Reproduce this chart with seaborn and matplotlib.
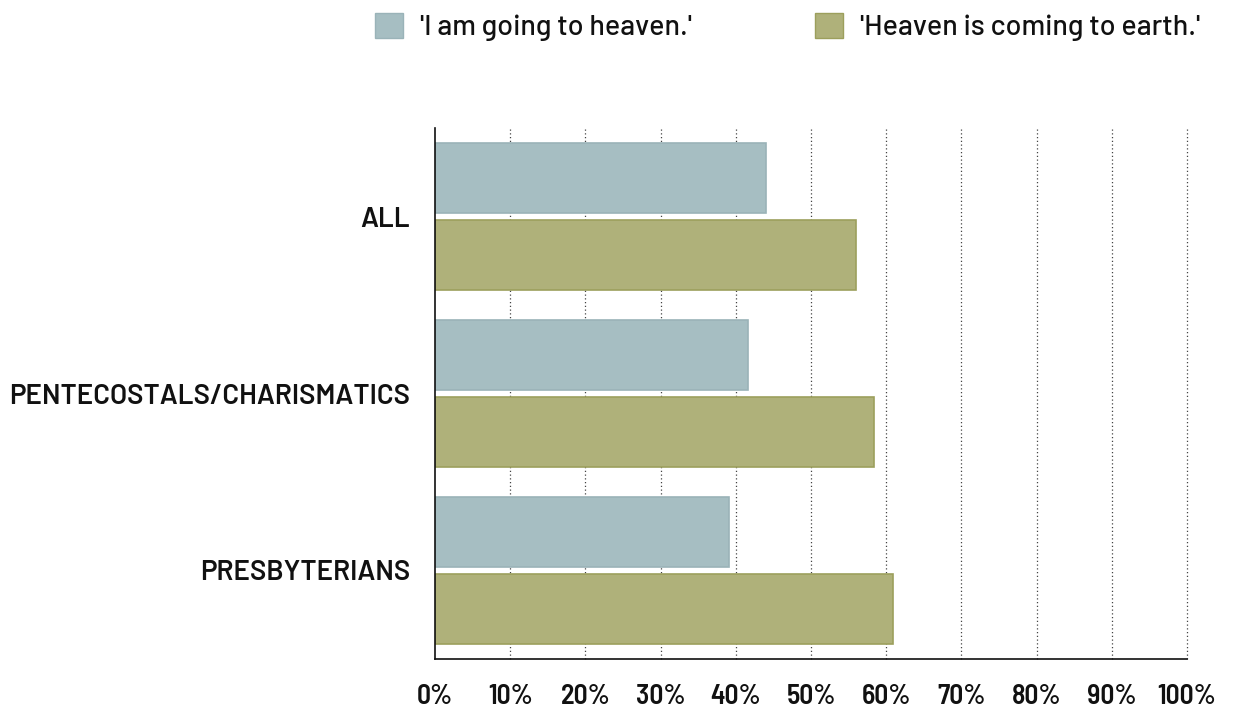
import matplotlib
matplotlib.use("Agg")
import matplotlib.pyplot as plt
from matplotlib.patches import Patch
from matplotlib.font_manager import fontManager
import seaborn as sns
import pandas as pd

categories = ["ALL", "PENTECOSTALS/CHARISMATICS", "PRESBYTERIANS"]
series_names = ["'I am going to heaven.'", "'Heaven is coming to earth.'"]
going_to_heaven = [44.0, 41.6, 39.1]
heaven_to_earth = [56.0, 58.4, 60.9]
x_ticks = [0, 10, 20, 30, 40, 50, 60, 70, 80, 90, 100]
x_tick_labels = [f"{t}%" for t in x_ticks]

colors = ["#a6bec2", "#afb17a"]
edges = ["#9ab3b8", "#9c9f5c"]

df = pd.DataFrame({
    "category": categories * 2,
    "series": [series_names[0]] * 3 + [series_names[1]] * 3,
    "value": going_to_heaven + heaven_to_earth,
})

sns.set_theme(style="white")
names = {f.name for f in fontManager.ttflist}
cond = [f for f in ["Barlow Semi Condensed", "Roboto Condensed"] if f in names] + ["DejaVu Sans"]
wide = [f for f in ["Barlow", "Roboto"] if f in names] + ["DejaVu Sans"]
plt.rcParams["font.family"] = cond

fig = plt.figure(figsize=(12.34, 7.09), dpi=100)
ax = fig.add_axes([435 / 1234, 1 - 659 / 709, (1187 - 435) / 1234, (659 - 128) / 709])

sns.barplot(data=df, y="category", x="value", hue="series", order=categories,
            hue_order=series_names, palette=colors, orient="h",
            width=0.87, gap=0.09, legend=False, ax=ax, saturation=1)

for bar_container, ec in zip(ax.containers, edges):
    for p in bar_container:
        p.set_edgecolor(ec)
        p.set_linewidth(1.2)

ax.set_xlim(0, 100)
ax.set_ylim(2.5, -0.5)
ax.set_xticks(x_ticks)
ax.set_xticklabels(x_tick_labels, fontsize=20, fontweight=600, color="#111111")
ax.tick_params(axis="x", length=0, pad=18)
ax.tick_params(axis="y", length=0, pad=18)
for lbl in ax.get_yticklabels():
    lbl.set_family(wide)
    lbl.set_fontsize(20)
    lbl.set_fontweight(600)
    lbl.set_color("#111111")
ax.set_xlabel("")
ax.set_ylabel("")
for x in x_ticks[1:]:
    ax.axvline(x, color="#444444", linestyle=(0, (1, 2)), linewidth=0.9, zorder=0, clip_on=False)
for s in ["top", "right"]:
    ax.spines[s].set_visible(False)
for s in ["left", "bottom"]:
    ax.spines[s].set_color("#111111")
    ax.spines[s].set_linewidth(1.2)

handles = [Patch(facecolor=c, edgecolor=e) for c, e in zip(colors, edges)]
fig.legend(handles, series_names, loc="center left", bbox_to_anchor=(375 / 1234, 1 - 27 / 709),
           ncol=2, frameon=False, prop={"family": wide, "size": 20.6, "weight": 500},
           handlelength=0.97, handleheight=0.97, handletextpad=0.6, columnspacing=4.3,
           borderpad=0, borderaxespad=0, labelcolor="#111111")

fig.savefig("out.png", dpi=100)
